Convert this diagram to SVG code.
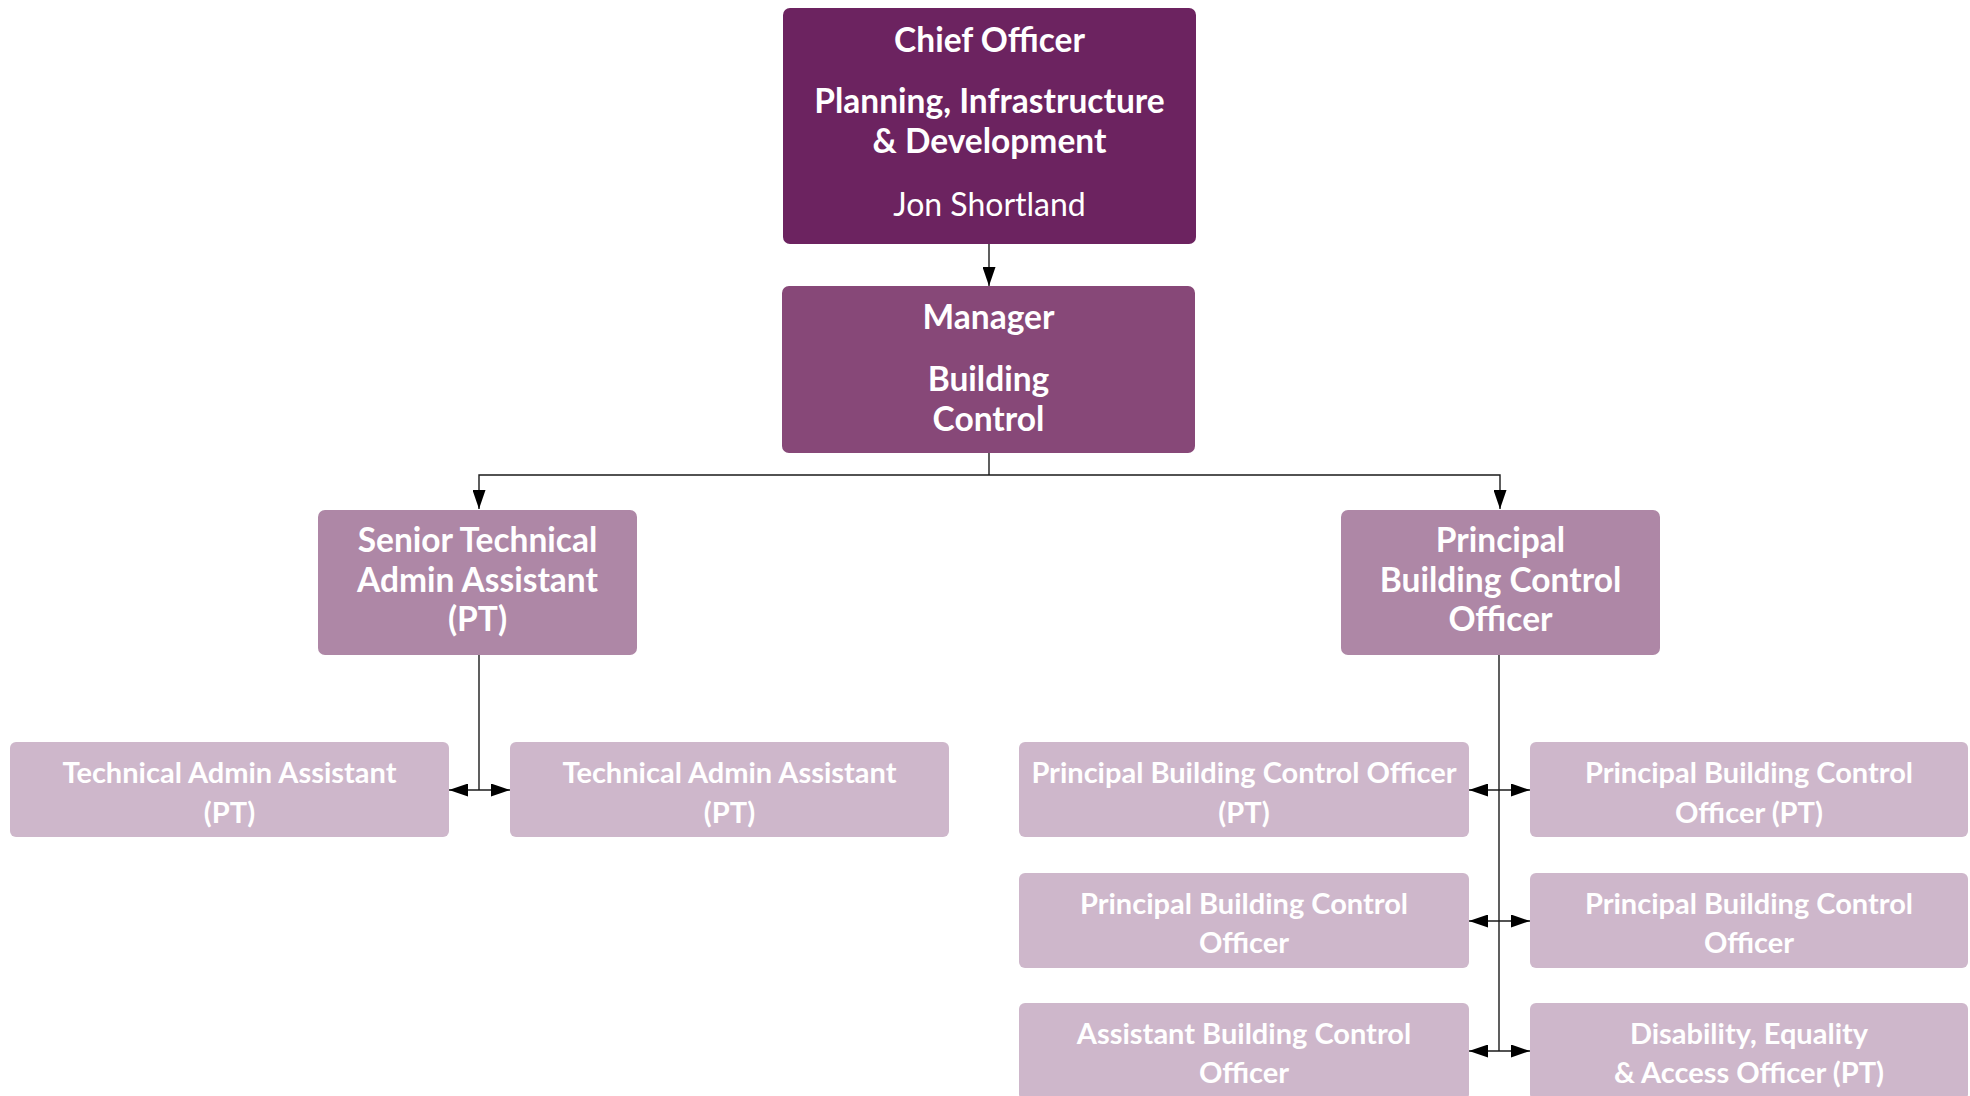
<svg xmlns="http://www.w3.org/2000/svg" width="1970" height="1096" viewBox="0 0 1970 1096">
  <style>
    .box { stroke: none; }
    .l1 { fill: #6c2360; }
    .l2 { fill: #874878; }
    .l3 { fill: #ae87a6; }
    .l4 { fill: #ceb7cb; }
    text { fill: #ffffff; text-anchor: middle; font-family: "Lato", "Open Sans", sans-serif; }
    .t-big { font-size: 33.5px; font-weight: 700; }
    .t-name { font-size: 32px; font-weight: 400; }
    .t-small { font-size: 29px; font-weight: 700; }
    .conn { fill: none; stroke: #1a1a1a; stroke-width: 1.4; }
  </style>
  <defs>
    <marker id="arrow" viewBox="0 0 19 13" refX="19" refY="6.5" markerWidth="19" markerHeight="13" markerUnits="userSpaceOnUse" orient="auto-start-reverse">
      <path d="M0,0 L19,6.5 L0,13 z" fill="#000000"/>
    </marker>
  </defs>

  <rect width="1970" height="1096" fill="#ffffff"/>

  <!-- connectors -->
  <g id="connectors">
    <path class="conn" d="M989,244 V286" marker-end="url(#arrow)"/>
    <path class="conn" d="M989,453 V475"/>
    <path class="conn" d="M989,475 H479 V509" marker-end="url(#arrow)"/>
    <path class="conn" d="M989,475 H1500 V509" marker-end="url(#arrow)"/>
    <!-- senior technical admin branch -->
    <path class="conn" d="M479,655 V790"/>
    <path class="conn" d="M449,790 H510" marker-start="url(#arrow)" marker-end="url(#arrow)"/>
    <!-- principal building control branch -->
    <path class="conn" d="M1499,655 V1051"/>
    <path class="conn" d="M1469,790 H1530" marker-start="url(#arrow)" marker-end="url(#arrow)"/>
    <path class="conn" d="M1469,921 H1530" marker-start="url(#arrow)" marker-end="url(#arrow)"/>
    <path class="conn" d="M1469,1051 H1530" marker-start="url(#arrow)" marker-end="url(#arrow)"/>
  </g>

  <!-- nodes -->
  <g id="chief-officer">
    <rect class="box l1" x="783" y="8" width="413" height="236" rx="7"/>
    <text class="t-big" x="989.5" y="52">Chief Officer</text>
    <text class="t-big" x="989.5" y="113">Planning, Infrastructure</text>
    <text class="t-big" x="989.5" y="153">&amp; Development</text>
    <text class="t-name" x="989.5" y="216">Jon Shortland</text>
  </g>

  <g id="manager">
    <rect class="box l2" x="782" y="286" width="413" height="167" rx="7"/>
    <text class="t-big" x="988.5" y="329">Manager</text>
    <text class="t-big" x="988.5" y="391">Building</text>
    <text class="t-big" x="988.5" y="431">Control</text>
  </g>

  <g id="senior-technical-admin">
    <rect class="box l3" x="318" y="510" width="319" height="145" rx="7"/>
    <text class="t-big" x="477.5" y="552">Senior Technical</text>
    <text class="t-big" x="477.5" y="592">Admin Assistant</text>
    <text class="t-big" x="477.5" y="631">(PT)</text>
  </g>

  <g id="principal-bco">
    <rect class="box l3" x="1341" y="510" width="319" height="145" rx="7"/>
    <text class="t-big" x="1500.5" y="552">Principal</text>
    <text class="t-big" x="1500.5" y="592">Building Control</text>
    <text class="t-big" x="1500.5" y="631">Officer</text>
  </g>

  <g id="tech-admin-1">
    <rect class="box l4" x="10" y="742" width="439" height="95" rx="6"/>
    <text class="t-small" x="229.5" y="783">Technical Admin Assistant</text>
    <text class="t-small" x="229.5" y="823">(PT)</text>
  </g>

  <g id="tech-admin-2">
    <rect class="box l4" x="510" y="742" width="439" height="95" rx="6"/>
    <text class="t-small" x="729.5" y="783">Technical Admin Assistant</text>
    <text class="t-small" x="729.5" y="823">(PT)</text>
  </g>

  <g id="pbco-pt-1">
    <rect class="box l4" x="1019" y="742" width="450" height="95" rx="6"/>
    <text class="t-small" x="1244" y="783">Principal Building Control Officer</text>
    <text class="t-small" x="1244" y="823">(PT)</text>
  </g>

  <g id="pbco-pt-2">
    <rect class="box l4" x="1530" y="742" width="438" height="95" rx="6"/>
    <text class="t-small" x="1749" y="783">Principal Building Control</text>
    <text class="t-small" x="1749" y="823">Officer (PT)</text>
  </g>

  <g id="pbco-1">
    <rect class="box l4" x="1019" y="873" width="450" height="95" rx="6"/>
    <text class="t-small" x="1244" y="914">Principal Building Control</text>
    <text class="t-small" x="1244" y="953">Officer</text>
  </g>

  <g id="pbco-2">
    <rect class="box l4" x="1530" y="873" width="438" height="95" rx="6"/>
    <text class="t-small" x="1749" y="914">Principal Building Control</text>
    <text class="t-small" x="1749" y="953">Officer</text>
  </g>

  <g id="assistant-bco">
    <rect class="box l4" x="1019" y="1003" width="450" height="97" rx="6"/>
    <text class="t-small" x="1244" y="1044">Assistant Building Control</text>
    <text class="t-small" x="1244" y="1083">Officer</text>
  </g>

  <g id="disability-access-officer">
    <rect class="box l4" x="1530" y="1003" width="438" height="97" rx="6"/>
    <text class="t-small" x="1749" y="1044">Disability, Equality</text>
    <text class="t-small" x="1749" y="1083">&amp; Access Officer (PT)</text>
  </g>
</svg>
